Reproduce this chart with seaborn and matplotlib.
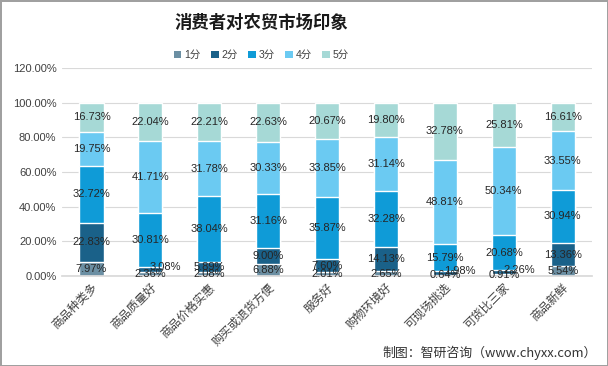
import numpy as np
import pandas as pd
import matplotlib
matplotlib.use("Agg")
import matplotlib.pyplot as plt
import seaborn as sns
from matplotlib.patches import Patch

categories = ["商品种类多", "商品质量好", "商品价格实惠", "购买或退货方便", "服务好",
              "购物环境好", "可现场挑选", "可货比三家", "商品新鲜"]
series_names = ["1分", "2分", "3分", "4分", "5分"]
s1 = [7.97, 2.36, 2.08, 6.88, 2.01, 2.65, 0.64, 0.91, 5.54]
s2 = [22.83, 3.08, 5.89, 9.00, 7.60, 14.13, 1.98, 2.26, 13.36]
s3 = [32.72, 30.81, 38.04, 31.16, 35.87, 32.28, 15.79, 20.68, 30.94]
s4 = [19.75, 41.71, 31.78, 30.33, 33.85, 31.14, 48.81, 50.34, 33.55]
s5 = [16.73, 22.04, 22.21, 22.63, 20.67, 19.80, 32.78, 25.81, 16.61]
colors = ["#6B8FA3", "#1A6189", "#0F9BD7", "#6BCAF2", "#A6D9D6"]
yticks = [0, 20, 40, 60, 80, 100, 120]

sns.set_theme(style="white")
plt.rcParams['font.family'] = ['Liberation Sans', 'Noto Sans CJK SC']

series = [s1, s2, s3, s4, s5]
vals = np.array(series)
cum = np.cumsum(vals, axis=0)

fig = plt.figure(figsize=(6.08, 3.66), dpi=100)
fig.patch.set_edgecolor("#A0A0A0")
fig.patch.set_linewidth(2)
ax = fig.add_axes([0.102, 0.246, 0.872, 0.568])

for i in range(4, -1, -1):
    df = pd.DataFrame({"cat": categories, "val": cum[i]})
    sns.barplot(data=df, x="cat", y="val", color=colors[i], width=0.41,
                saturation=1, ax=ax, order=categories, zorder=2)

ax.set_ylim(0, 120)
ax.set_xlim(-0.5, len(categories) - 0.5)
ax.set_yticks(yticks)
ax.set_yticklabels([f"{t:.2f}%" for t in yticks], fontsize=8, color="#404040")
ax.yaxis.grid(True, color="#D9D9D9", linewidth=0.8, zorder=0)
ax.set_axisbelow(True)
for s in ["left", "right", "top"]:
    ax.spines[s].set_visible(False)
ax.spines["bottom"].set_color("#D9D9D9")
ax.tick_params(axis="both", length=0, pad=4)
ax.set_xlabel("")
ax.set_ylabel("")
ax.set_xticks(range(len(categories)))
ax.set_xticklabels(categories, rotation=45, ha="right", rotation_mode="anchor",
                   fontsize=8.5, color="#404040")

# data labels
for i in range(5):
    for j in range(len(categories)):
        v = vals[i, j]
        yc = cum[i, j] - v / 2
        xc = j
        if i == 1 and v < 3.5:
            xc = j + 0.26
            yc = yc + 1.5
        ax.text(xc, yc, f"{v:.2f}%", ha="center", va="center", fontsize=8,
                color="#262626", zorder=5)

# legend
handles = [Patch(facecolor=c, edgecolor="none") for c in colors]
fig.legend(handles, series_names, loc="center", bbox_to_anchor=(0.43, 0.85),
           ncol=5, frameon=False, fontsize=7.5, handlelength=0.7, handleheight=0.7,
           handletextpad=0.3, columnspacing=1.0, labelcolor="#404040")

fig.text(0.43, 0.937, "消费者对农贸市场印象", ha="center", va="center",
         fontsize=12.5, fontweight="bold", color="#1a1a1a",
         family=['Noto Sans CJK SC'])
fig.text(0.982, 0.037, "制图：智研咨询（www.chyxx.com）", ha="right", va="center",
         fontsize=9.3, color="#333333", family=['Noto Sans CJK SC', 'DejaVu Sans'])

fig.savefig("out.png", dpi=100)
